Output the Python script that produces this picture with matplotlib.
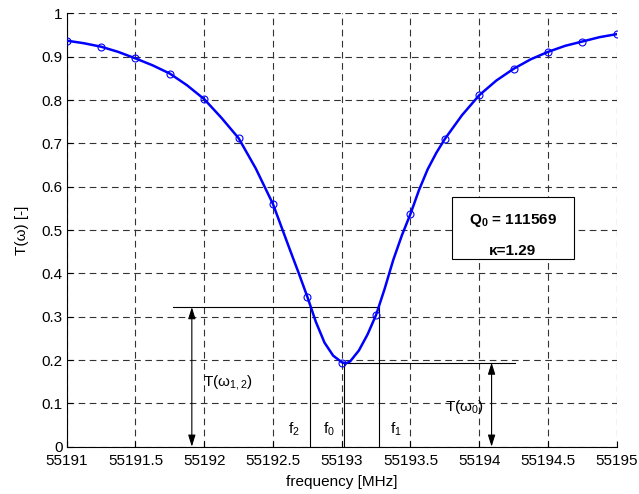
import matplotlib.pyplot as plt
from matplotlib.patches import Rectangle

plt.rcParams['font.family'] = ['Liberation Sans', 'DejaVu Sans']
plt.rcParams['mathtext.fontset'] = 'custom'
plt.rcParams['mathtext.rm'] = 'Liberation Sans'
plt.rcParams['mathtext.it'] = 'Liberation Sans'
plt.rcParams['mathtext.bf'] = 'Liberation Sans:bold'

# measured points (0.25 MHz step)
freq_meas = [55191.00, 55191.25, 55191.50, 55191.75, 55192.00, 55192.25,
             55192.50, 55192.75, 55193.00, 55193.25, 55193.50, 55193.75,
             55194.00, 55194.25, 55194.50, 55194.75, 55195.00]
t_meas = [0.937, 0.923, 0.896, 0.861, 0.802, 0.712, 0.560, 0.346, 0.194,
          0.304, 0.537, 0.710, 0.811, 0.872, 0.911, 0.935, 0.952]

# fitted curve
freq_fit = [55191.000, 55191.125, 55191.250, 55191.375, 55191.500, 55191.625,
            55191.750, 55191.875, 55192.000, 55192.125, 55192.250, 55192.375,
            55192.500, 55192.625, 55192.688, 55192.750, 55192.812, 55192.875,
            55192.938, 55193.000, 55193.030, 55193.062, 55193.125, 55193.188,
            55193.250, 55193.312, 55193.375, 55193.438, 55193.500, 55193.562,
            55193.625, 55193.688, 55193.750, 55193.875, 55194.000, 55194.125,
            55194.250, 55194.375, 55194.500, 55194.625, 55194.750, 55194.875,
            55195.000]
t_fit = [0.937, 0.931, 0.923, 0.911, 0.896, 0.880, 0.861, 0.834, 0.802,
         0.759, 0.712, 0.642, 0.560, 0.453, 0.400, 0.346, 0.288, 0.240,
         0.210, 0.195, 0.192, 0.197, 0.222, 0.259, 0.304, 0.364, 0.431,
         0.488, 0.537, 0.592, 0.640, 0.678, 0.710, 0.765, 0.811, 0.845,
         0.872, 0.894, 0.911, 0.925, 0.935, 0.945, 0.952]

f0 = 55193.02
t0 = 0.194
f_12 = [55192.77, 55193.27]
t_12 = 0.322

fig = plt.figure(figsize=(6.39, 4.94), dpi=100)
ax = fig.add_axes([0.1044, 0.0958, 0.8607, 0.8772])

ax.plot(freq_fit, t_fit, color='#0000ff', lw=1.8, zorder=4)
ax.plot(freq_meas, t_meas, 'o', color='#0000ff', mfc='none', ms=5, mew=0.8, zorder=5)

# resonance markers
ax.plot([55191.775, f_12[1]], [t_12, t_12], color='k', lw=0.8)
for f in f_12:
    ax.plot([f, f], [0, t_12], color='k', lw=0.8)
ax.plot([f0, f0], [0, t0], color='k', lw=0.8)
ax.plot([55193.0, 55194.26], [t0, t0], color='k', lw=0.8)

arrow = dict(arrowstyle='<|-|>,head_length=0.7,head_width=0.22', color='k',
             lw=0.8, shrinkA=0, shrinkB=0)
ax.annotate('', xy=(55191.91, 0), xytext=(55191.91, t_12), arrowprops=arrow)
ax.annotate('', xy=(55194.09, 0), xytext=(55194.09, t0), arrowprops=arrow)

ax.text(55191.99, 0.147, 'T(ω$_{1,2}$)', fontsize=11, va='center')
ax.text(55193.75, 0.092, 'T(ω$_0$)', fontsize=11, va='center')
ax.text(55192.61, 0.04, 'f$_2$', fontsize=11, va='center')
ax.text(55192.865, 0.04, 'f$_0$', fontsize=11, va='center')
ax.text(55193.35, 0.04, 'f$_1$', fontsize=11, va='center')

ax.add_patch(Rectangle((55193.80, 0.433), 0.89, 0.144, facecolor='white',
                       edgecolor='k', lw=0.8, zorder=6))
ax.text(55194.245, 0.523, r'Q$_\mathbf{0}$ = 111569', fontsize=11,
        fontweight='bold', ha='center', va='center', zorder=7)
ax.text(55194.245, 0.452, 'κ=1.29', fontsize=11, fontweight='bold',
        ha='center', va='center', zorder=7)

ax.set_xlim(55191, 55195)
ax.set_ylim(0, 1)
ax.set_xticks([55191, 55191.5, 55192, 55192.5, 55193, 55193.5, 55194, 55194.5, 55195])
ax.set_xticklabels(['55191', '55191.5', '55192', '55192.5', '55193',
                    '55193.5', '55194', '55194.5', '55195'])
ax.set_yticks([0, 0.1, 0.2, 0.3, 0.4, 0.5, 0.6, 0.7, 0.8, 0.9, 1])
ax.set_yticklabels(['0', '0.1', '0.2', '0.3', '0.4', '0.5', '0.6', '0.7',
                    '0.8', '0.9', '1'])
ax.grid(True, color='0.2', lw=0.8, linestyle=(0, (6, 4)))
ax.tick_params(direction='in', length=4, labelsize=11)
ax.tick_params(axis='x', pad=5.5)
ax.tick_params(axis='y', pad=3)
for s in ['top', 'right']:
    ax.spines[s].set_visible(False)

ax.set_xlabel('frequency [MHz]', fontsize=11, labelpad=5)
ax.set_ylabel('T(ω) [-]', fontsize=11, labelpad=9)

fig.savefig('out.png', dpi=100)
